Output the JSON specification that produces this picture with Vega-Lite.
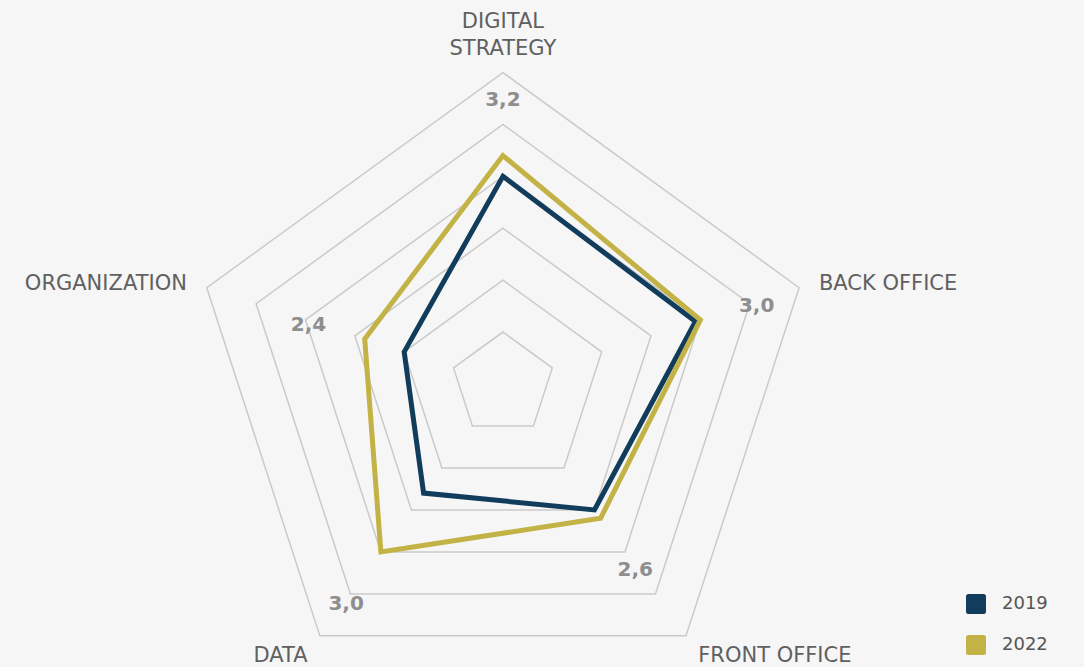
{
  "$schema": "https://vega.github.io/schema/vega-lite/v6.json",
  "width": 1084,
  "height": 667,
  "autosize": "none",
  "padding": 0,
  "background": "#f6f6f6",
  "config": {"view": {"stroke": null}, "font": "DejaVu Sans"},
  "datasets": {
    "scores": [
      {"axis": "DIGITAL STRATEGY", "order": 0, "year": "2019", "value": 3.0},
      {"axis": "BACK OFFICE", "order": 1, "year": "2019", "value": 2.95},
      {"axis": "FRONT OFFICE", "order": 2, "year": "2019", "value": 2.5},
      {"axis": "DATA", "order": 3, "year": "2019", "value": 2.3},
      {"axis": "ORGANIZATION", "order": 4, "year": "2019", "value": 2.0},
      {"axis": "DIGITAL STRATEGY", "order": 0, "year": "2022", "value": 3.2},
      {"axis": "BACK OFFICE", "order": 1, "year": "2022", "value": 3.0},
      {"axis": "FRONT OFFICE", "order": 2, "year": "2022", "value": 2.6},
      {"axis": "DATA", "order": 3, "year": "2022", "value": 3.0},
      {"axis": "ORGANIZATION", "order": 4, "year": "2022", "value": 2.4}
    ],
    "rings": [
      {"level": 1.5, "order": [0, 1, 2, 3, 4]},
      {"level": 2.0, "order": [0, 1, 2, 3, 4]},
      {"level": 2.5, "order": [0, 1, 2, 3, 4]},
      {"level": 3.0, "order": [0, 1, 2, 3, 4]},
      {"level": 3.5, "order": [0, 1, 2, 3, 4]},
      {"level": 4.0, "order": [0, 1, 2, 3, 4]}
    ],
    "axes": [
      {"axis": "DIGITAL STRATEGY", "order": 0, "label": "DIGITAL\nSTRATEGY", "side": "top"},
      {"axis": "BACK OFFICE", "order": 1, "label": "BACK OFFICE", "side": "right"},
      {"axis": "FRONT OFFICE", "order": 2, "label": "FRONT OFFICE", "side": "right"},
      {"axis": "DATA", "order": 3, "label": "DATA", "side": "left"},
      {"axis": "ORGANIZATION", "order": 4, "label": "ORGANIZATION", "side": "left"}
    ]
  },
  "encoding": {
    "x": {"field": "x", "type": "quantitative", "scale": {"domain": [-1.615, 1.866], "nice": false, "zero": false}, "axis": null},
    "y": {"field": "y", "type": "quantitative", "scale": {"domain": [-0.909, 1.233], "nice": false, "zero": false}, "axis": null}
  },
  "layer": [
    {
      "data": {"name": "rings"},
      "transform": [
        {"flatten": ["order"]},
        {"calculate": "(datum.level - 1) / 3", "as": "r"},
        {"calculate": "datum.r * sin(datum.order * 2 * PI / 5)", "as": "x"},
        {"calculate": "datum.r * cos(datum.order * 2 * PI / 5)", "as": "y"}
      ],
      "mark": {"type": "line", "interpolate": "linear-closed", "stroke": "#cacaca", "strokeWidth": 1.5},
      "encoding": {
        "detail": {"field": "level", "type": "nominal"},
        "order": {"field": "order", "type": "quantitative"}
      }
    },
    {
      "data": {"name": "scores"},
      "transform": [
        {"calculate": "(datum.value - 1) / 3", "as": "r"},
        {"calculate": "datum.r * sin(datum.order * 2 * PI / 5)", "as": "x"},
        {"calculate": "datum.r * cos(datum.order * 2 * PI / 5)", "as": "y"}
      ],
      "mark": {"type": "line", "interpolate": "linear-closed", "strokeWidth": 5, "strokeJoin": "miter"},
      "encoding": {
        "color": {
          "field": "year",
          "type": "nominal",
          "scale": {"domain": ["2019", "2022"], "range": ["#123c5c", "#c3b246"]},
          "legend": {
            "title": null,
            "orient": "none",
            "legendX": 966,
            "legendY": 594,
            "padding": 0,
            "symbolType": "M-0.75,-1L0.75,-1Q1,-1,1,-0.75L1,0.75Q1,1,0.75,1L-0.75,1Q-1,1,-1,0.75L-1,-0.75Q-1,-1,-0.75,-1Z",
            "symbolSize": 400,
            "symbolStrokeWidth": 0,
            "labelFontSize": 18,
            "labelColor": "#555555",
            "labelFont": "DejaVu Sans",
            "labelOffset": 16,
            "rowPadding": 21,
            "encode": {"symbols": {"update": {"fill": {"scale": "color", "field": "value"}, "fillOpacity": {"value": 1}}}}
          }
        },
        "order": {"field": "order", "type": "quantitative"}
      }
    },
    {
      "data": {"name": "scores"},
      "transform": [
        {"filter": "datum.year == '2022'"},
        {"calculate": "(datum.value + 0.57 - 1) / 3", "as": "r"},
        {"calculate": "datum.r * sin(datum.order * 2 * PI / 5)", "as": "x"},
        {"calculate": "datum.r * cos(datum.order * 2 * PI / 5)", "as": "y"},
        {"calculate": "replace(format(datum.value, '.1f'), '.', ',')", "as": "lab"}
      ],
      "mark": {"type": "text", "fontSize": 20, "fontWeight": "bold", "fill": "#8e8e8e", "align": "center", "baseline": "middle", "dy": 4},
      "encoding": {"text": {"field": "lab", "type": "nominal"}}
    },
    {
      "data": {"name": "axes"},
      "transform": [
        {"filter": "datum.side == 'top'"},
        {"calculate": "1.067 * sin(datum.order * 2 * PI / 5)", "as": "x"},
        {"calculate": "1.067 * cos(datum.order * 2 * PI / 5)", "as": "y"}
      ],
      "mark": {"type": "text", "fontSize": 21, "fill": "#606060", "align": "center", "baseline": "bottom", "lineBreak": "\n", "lineHeight": 27, "dy": -20},
      "encoding": {"text": {"field": "label", "type": "nominal"}}
    },
    {
      "data": {"name": "axes"},
      "transform": [
        {"filter": "datum.side == 'right'"},
        {"calculate": "1.067 * sin(datum.order * 2 * PI / 5)", "as": "x"},
        {"calculate": "1.067 * cos(datum.order * 2 * PI / 5)", "as": "y"}
      ],
      "mark": {"type": "text", "fontSize": 21, "fill": "#606060", "align": "left", "baseline": "middle", "dy": 3},
      "encoding": {"text": {"field": "label", "type": "nominal"}}
    },
    {
      "data": {"name": "axes"},
      "transform": [
        {"filter": "datum.side == 'left'"},
        {"calculate": "1.067 * sin(datum.order * 2 * PI / 5)", "as": "x"},
        {"calculate": "1.067 * cos(datum.order * 2 * PI / 5)", "as": "y"}
      ],
      "mark": {"type": "text", "fontSize": 21, "fill": "#606060", "align": "right", "baseline": "middle", "dy": 3},
      "encoding": {"text": {"field": "label", "type": "nominal"}}
    }
  ]
}
